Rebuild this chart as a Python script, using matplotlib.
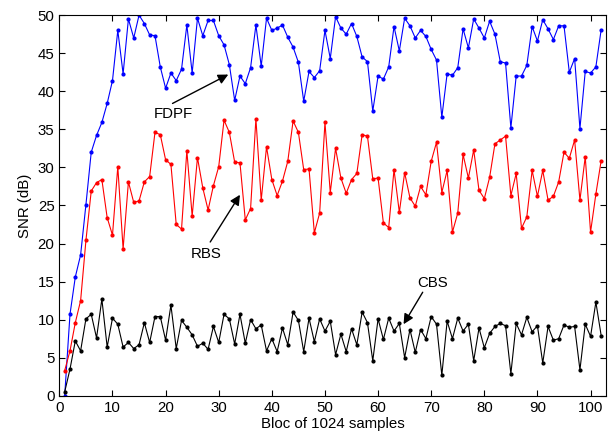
import matplotlib
matplotlib.use("Agg")
import matplotlib.pyplot as plt
import numpy as np

plt.rcParams['font.family'] = ['Liberation Sans', 'DejaVu Sans']

# block index (1..102)
blocks = np.arange(1, 103)

# SNR values [dB]
fdpf = [0.0, 10.7, 15.6, 18.5, 25.1, 32.0, 34.2, 35.9, 38.4, 41.4,
        48.0, 42.3, 49.5, 47.0, 50.0, 48.9, 47.4, 47.3, 43.2, 40.4,
        42.4, 41.4, 42.9, 48.7, 42.4, 49.6, 47.3, 49.3, 49.3, 47.3,
        46.1, 43.5, 38.8, 42.0, 41.0, 43.1, 48.7, 43.3, 49.6, 48.0,
        48.3, 48.7, 47.1, 45.8, 43.8, 38.7, 42.6, 41.8, 42.7, 48.0,
        44.3, 49.8, 48.3, 47.5, 48.9, 47.2, 44.5, 43.9, 37.4, 42.0,
        41.6, 43.2, 48.5, 45.3, 49.6, 48.6, 47.0, 48.0, 47.2, 45.5,
        44.1, 36.6, 42.3, 42.1, 43.1, 48.2, 45.7, 49.5, 48.3, 47.0,
        49.2, 47.5, 43.9, 43.7, 35.2, 42.0, 42.0, 43.4, 48.5, 46.6,
        49.4, 48.2, 46.8, 48.6, 48.6, 42.5, 44.3, 35.1, 42.6, 42.4,
        43.2, 48.1]

rbs = [3.3, 5.9, 9.6, 12.5, 20.4, 26.9, 28.0, 28.4, 23.4, 21.1,
       30.1, 19.3, 28.1, 25.4, 25.6, 28.1, 28.8, 34.6, 34.3, 31.0,
       30.4, 22.5, 21.9, 32.2, 23.6, 31.3, 27.3, 24.4, 27.6, 30.1,
       36.2, 34.6, 30.7, 30.6, 23.1, 24.6, 36.4, 25.7, 32.7, 28.4,
       26.3, 28.2, 30.8, 36.1, 34.6, 29.7, 29.8, 21.4, 24.0, 35.9,
       26.7, 32.5, 28.6, 26.6, 28.4, 29.2, 34.3, 34.1, 28.5, 28.6,
       22.7, 22.1, 29.7, 24.1, 29.3, 26.0, 24.9, 27.5, 26.4, 30.8,
       33.3, 26.7, 29.6, 21.5, 24.0, 31.7, 28.6, 32.3, 27.0, 25.9,
       28.7, 33.1, 33.6, 34.1, 26.3, 29.2, 22.0, 23.5, 29.6, 26.2,
       29.6, 25.7, 26.2, 28.1, 32.0, 31.2, 33.6, 25.7, 31.4, 21.5,
       26.5, 30.9]

cbs = [0.5, 3.5, 7.2, 5.9, 10.1, 10.7, 7.6, 12.7, 6.4, 10.2,
       9.4, 6.4, 7.0, 6.2, 6.7, 9.6, 7.0, 10.4, 10.4, 7.3,
       11.9, 6.2, 9.9, 9.0, 8.0, 6.5, 6.9, 6.1, 9.1, 7.0,
       10.7, 10.1, 6.8, 10.7, 6.9, 10.0, 8.8, 9.3, 5.9, 7.5,
       5.8, 8.9, 6.7, 11.0, 9.9, 5.8, 10.2, 7.1, 10.1, 8.5,
       9.8, 5.4, 8.1, 5.8, 8.8, 6.7, 11.0, 9.6, 4.6, 10.1,
       7.4, 10.2, 8.5, 9.5, 5.0, 8.7, 5.7, 8.7, 7.5, 10.4,
       9.4, 2.7, 9.8, 7.5, 10.2, 8.5, 9.4, 4.6, 8.9, 6.3,
       8.2, 9.1, 9.5, 9.2, 2.9, 9.5, 8.0, 10.3, 8.4, 9.2,
       4.3, 9.1, 7.3, 7.5, 9.3, 9.0, 9.1, 3.4, 9.4, 7.8,
       12.3, 7.9]

# annotation label, text position, arrow tail, arrow head (data coords)
labels = ['FDPF', 'RBS', 'CBS']
text_pos = [(21.5, 37.0), (27.7, 18.6), (70.3, 14.8)]
arrow_tail = [(21.3, 38.4), (28.4, 20.2), (68.4, 13.6)]
arrow_head = [(31.8, 42.2), (34.0, 26.4), (64.8, 9.4)]

fig = plt.figure(figsize=(6.12, 4.33), dpi=100)
ax = fig.add_axes([0.097, 0.086, 0.894, 0.879])

ax.plot(blocks, fdpf, '.-', color='#0000ff', lw=0.8, ms=4)
ax.plot(blocks, rbs, '.-', color='#ff0000', lw=0.8, ms=4)
ax.plot(blocks, cbs, '.-', color='black', lw=0.8, ms=4)

ax.set_xlim(0, 103)
ax.set_ylim(0, 50)
ax.set_xticks(np.arange(0, 101, 10))
ax.set_yticks(np.arange(0, 51, 5))
ax.tick_params(direction='in', top=True, right=True, labelsize=10.8, length=4)
ax.set_xlabel('Bloc of 1024 samples', fontsize=10.8, labelpad=2)
ax.set_ylabel('SNR (dB)', fontsize=10.8, labelpad=4)

for lab, tp, tail, head in zip(labels, text_pos, arrow_tail, arrow_head):
    ax.text(tp[0], tp[1], lab, fontsize=10.8, ha='center', va='center')
    ax.annotate('', xy=head, xytext=tail,
                arrowprops=dict(arrowstyle='-|>', color='black', lw=1.0,
                                mutation_scale=15, shrinkA=0, shrinkB=0))

fig.savefig('out.png', dpi=100)
